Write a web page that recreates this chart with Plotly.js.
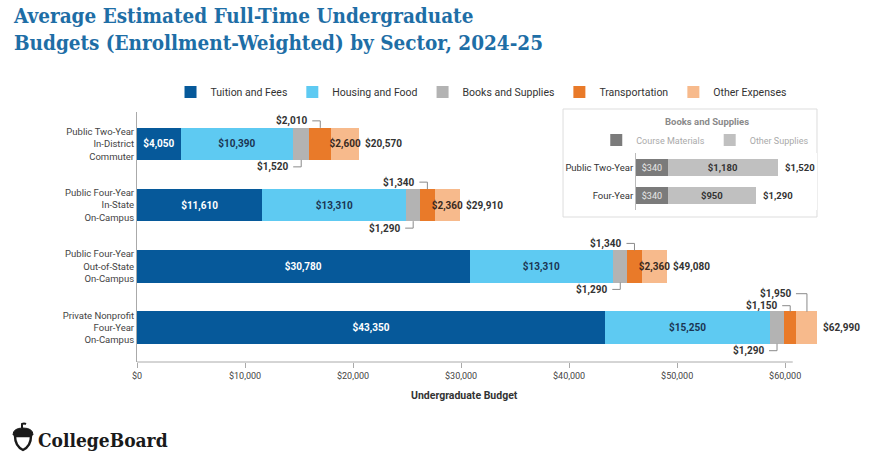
<!DOCTYPE html>
<html><head><meta charset="utf-8">
<script src="https://cdn.plot.ly/plotly-3.0.1.min.js"></script>
<style>html,body{margin:0;padding:0;background:#fff}#chart{width:869px;height:453px}</style>
</head><body><div id="chart"></div>
<script>
// ---------- data ----------
const sectors = ["Public Two-Year<br>In-District<br>Commuter",
                 "Public Four-Year<br>In-State<br>On-Campus",
                 "Public Four-Year<br>Out-of-State<br>On-Campus",
                 "Private Nonprofit<br>Four-Year<br>On-Campus"];
const tuitionFees    = [4050, 11610, 30780, 43350];
const housingFood    = [10390, 13310, 13310, 15250];
const booksSupplies  = [1520, 1290, 1290, 1290];
const transportation = [2010, 1340, 1340, 1150];
const otherExpenses  = [2600, 2360, 2360, 1950];
const totals         = [20570, 29910, 49080, 62990];
const xTickVals = [0, 10000, 20000, 30000, 40000, 50000, 60000];
const xTickText = ["$0", "$10,000", "$20,000", "$30,000", "$40,000", "$50,000", "$60,000"];

const insetCategories = ["Public Two-Year", "Four-Year"];
const courseMaterials = [340, 340];
const otherSupplies   = [1180, 950];
const insetTotals     = [1520, 1290];

// ---------- helpers / styles ----------
const FONT = "Roboto, 'Liberation Sans', Arial, sans-serif";
const fmt = v => "$" + v.toLocaleString("en-US");
const rows = sectors.map((_, i) => i);
const otherInside = [true, true, true, false];
const C = {tuition: "#06599a", housing: "#5ecaf2", books: "#b3b3b3", transport: "#e97a29", other: "#f7ba8c",
           course: "#7b7b7b", supplies: "#c0c0c0"};

const base = {type: "bar", orientation: "h", y: rows, width: 0.53, hoverinfo: "x+name",
              constraintext: "none", insidetextanchor: "middle", textangle: 0};

const traces = [
  Object.assign({}, base, {name: "Tuition and Fees", x: tuitionFees, marker: {color: C.tuition, line: {width: 0}},
    text: tuitionFees.map(fmt), textposition: "inside",
    textfont: {family: FONT, size: 10, weight: "bold", color: "#ffffff"}}),
  Object.assign({}, base, {name: "Housing and Food", x: housingFood, marker: {color: C.housing, line: {width: 0}},
    text: housingFood.map(fmt), textposition: "inside",
    textfont: {family: FONT, size: 10, weight: "bold", color: "#1b3553"}}),
  Object.assign({}, base, {name: "Books and Supplies", x: booksSupplies, marker: {color: C.books, line: {width: 0}},
    textposition: "none"}),
  Object.assign({}, base, {name: "Transportation", x: transportation, marker: {color: C.transport, line: {width: 0}},
    textposition: "none"}),
  Object.assign({}, base, {name: "Other Expenses", x: otherExpenses, marker: {color: C.other, line: {width: 0}},
    text: otherExpenses.map((v, i) => otherInside[i] ? fmt(v) : ""), textposition: "inside",
    textfont: {family: FONT, size: 10, weight: "bold", color: "#3a2a1e"}}),
  // inset
  {type: "bar", orientation: "h", name: "Course Materials", x: courseMaterials, y: [0, 1],
   xaxis: "x2", yaxis: "y2", legend: "legend2", width: 0.6, marker: {color: C.course, line: {width: 0}},
   text: courseMaterials.map(fmt), textposition: "inside", insidetextanchor: "middle", constraintext: "none", textangle: 0,
   textfont: {family: FONT, size: 9, color: "#e8e8e8"}, hoverinfo: "x+name"},
  {type: "bar", orientation: "h", name: "Other Supplies", x: otherSupplies, y: [0, 1],
   xaxis: "x2", yaxis: "y2", legend: "legend2", width: 0.6, marker: {color: C.supplies, line: {width: 0}},
   text: otherSupplies.map(fmt), textposition: "inside", insidetextanchor: "middle", constraintext: "none", textangle: 0,
   textfont: {family: FONT, size: 9.5, weight: "bold", color: "#333"}, hoverinfo: "x+name"}
];

// ---------- annotations & leader lines ----------
const annotations = [];
const shapes = [];

rows.forEach(i => {
  annotations.push({x: totals[i], y: i, xref: "x", yref: "y", text: fmt(totals[i]), showarrow: false,
    xanchor: "left", yanchor: "middle", xshift: 4, font: {family: FONT, size: 10, weight: "bold", color: "#333"}});
  const b0 = tuitionFees[i] + housingFood[i];
  const t0 = b0 + booksSupplies[i];
  const leaders = [
    {x: b0 + booksSupplies[i] / 2, v: booksSupplies[i], dir: -1, h: 23, len: 8},
    {x: t0 + transportation[i] / 2, v: transportation[i], dir: 1, h: 23, len: 8}
  ];
  if (!otherInside[i]) {
    leaders[1].h = 22;
    leaders.push({x: t0 + transportation[i] + otherExpenses[i] / 2, v: otherExpenses[i], dir: 1, h: 34, len: 11});
  }
  leaders.forEach(L => {
    shapes.push({type: "path", xref: "x", yref: "y", xsizemode: "pixel", ysizemode: "pixel",
      xanchor: L.x, yanchor: i, path: `M0,${L.dir * 16} V${L.dir * L.h} H${-L.len}`,
      line: {color: "#8a8a8a", width: 1}});
    annotations.push({x: L.x, y: i, xref: "x", yref: "y", text: fmt(L.v), showarrow: false,
      xanchor: "right", yanchor: "middle", xshift: -(L.len + 3), yshift: L.dir * L.h,
      font: {family: FONT, size: 10, weight: "bold", color: "#333"}});
  });
});

// inset totals
insetTotals.forEach((t, i) => {
  annotations.push({x: t, y: i, xref: "x2", yref: "y2", text: fmt(t), showarrow: false,
    xanchor: "left", yanchor: "middle", xshift: 5, font: {family: FONT, size: 9.5, weight: "bold", color: "#333"}});
});
annotations.push({x: 0.7994, y: 0.964, xref: "paper", yref: "paper", text: "Books and Supplies", showarrow: false,
  xanchor: "center", yanchor: "middle", font: {family: FONT, size: 9.5, weight: "bold", color: "#8a8a8a"}});
// x axis title
annotations.push({x: 0.46, y: -0.132, xref: "paper", yref: "paper", text: "Undergraduate Budget", showarrow: false,
  xanchor: "center", yanchor: "middle", font: {family: FONT, size: 10.5, weight: "bold", color: "#333"}});
// logo text
annotations.push({x: -0.1417, y: -0.31, xref: "paper", yref: "paper", text: "CollegeBoard", showarrow: false,
  xanchor: "left", yanchor: "middle", font: {family: "'DejaVu Serif Condensed', 'DejaVu Serif', serif", size: 19, weight: "bold", color: "#1a1a1a"}});

// main x axis baseline
shapes.push({type: "line", xref: "x", yref: "paper", x0: 0, x1: 60700, y0: 0, y1: 0,
  line: {color: "#aaaaaa", width: 1}});
// inset box
shapes.push({type: "rect", xref: "paper", yref: "paper", x0: 0.5975, x1: 0.9537, y0: 0.58, y1: 1.012,
  line: {color: "#dddddd", width: 1}, fillcolor: "#ffffff", layer: "below"});
// logo acorn (decoration)
const ax0 = (23 - 137) / 713, ay0 = (362 - 437) / 250;
shapes.push({type: "path", xref: "paper", yref: "paper", xsizemode: "pixel", ysizemode: "pixel",
  xanchor: ax0, yanchor: ay0, path: "M-8,1 L8,1 Q8,-9 0,-13 Q-8,-9 -8,1 Z",
  line: {color: "#1a1a1a", width: 2.4}, fillcolor: "#ffffff"});
shapes.push({type: "path", xref: "paper", yref: "paper", xsizemode: "pixel", ysizemode: "pixel",
  xanchor: ax0, yanchor: ay0, path: "M-10,2 Q-10,9 0,9 Q10,9 10,2 Z",
  line: {color: "#1a1a1a", width: 1}, fillcolor: "#1a1a1a"});
shapes.push({type: "path", xref: "paper", yref: "paper", xsizemode: "pixel", ysizemode: "pixel",
  xanchor: ax0, yanchor: ay0, path: "M-1,9 L-1,13 Q1,14 3,13",
  line: {color: "#1a1a1a", width: 2}});

const layout = {
  width: 869, height: 453,
  margin: {l: 137, r: 19, t: 112, b: 91},
  paper_bgcolor: "#ffffff", plot_bgcolor: "#ffffff",
  font: {family: FONT, color: "#444"},
  barmode: "stack",
  showlegend: true,
  title: {text: "Average Estimated Full-Time Undergraduate<br>Budgets (Enrollment-Weighted) by Sector, 2024-25",
    x: 14 / 869, xref: "container", xanchor: "left", y: 1 - 23 / 453, yref: "container", yanchor: "top",
    font: {family: "'DejaVu Serif Condensed', 'DejaVu Serif', serif", size: 20.5, weight: "bold", color: "#1e6ea6"}},
  xaxis: {range: [0, 66000], tickvals: xTickVals, ticktext: xTickText, showgrid: false, zeroline: false,
    showline: false, ticks: "outside", ticklen: 5, tickcolor: "#aaaaaa", tickwidth: 1,
    tickfont: {family: FONT, size: 9, color: "#444"}, fixedrange: true},
  yaxis: {range: [3.56, -0.52], tickvals: rows, ticktext: sectors, showgrid: false, zeroline: false,
    showline: true, linecolor: "#aaaaaa", linewidth: 1, ticks: "",
    tickfont: {family: FONT, size: 9.5, color: "#444"}, fixedrange: true},
  xaxis2: {domain: [0.6999, 0.9537], range: [0, 1938], anchor: "y2", visible: false, fixedrange: true},
  yaxis2: {domain: [0.608, 0.836], range: [1.518, -0.518], anchor: "x2", tickvals: [0, 1], ticktext: insetCategories,
    showgrid: false, zeroline: false, showline: true, linecolor: "#bbbbbb", ticks: "",
    tickfont: {family: FONT, size: 9.5, color: "#333"}, fixedrange: true},
  legend: {orientation: "h", x: 0.4825, xanchor: "center", y: 1.08, yanchor: "middle", traceorder: "normal",
    font: {family: FONT, size: 10.5, color: "#333"}, bgcolor: "rgba(0,0,0,0)"},
  legend2: {orientation: "h", x: 0.797, xanchor: "center", y: 0.888, yanchor: "middle", traceorder: "normal",
    font: {family: FONT, size: 9, color: "#aaaaaa"}, bgcolor: "rgba(0,0,0,0)"},
  annotations: annotations,
  shapes: shapes
};

Plotly.newPlot("chart", traces, layout, {displayModeBar: false});
</script>
</body></html>
